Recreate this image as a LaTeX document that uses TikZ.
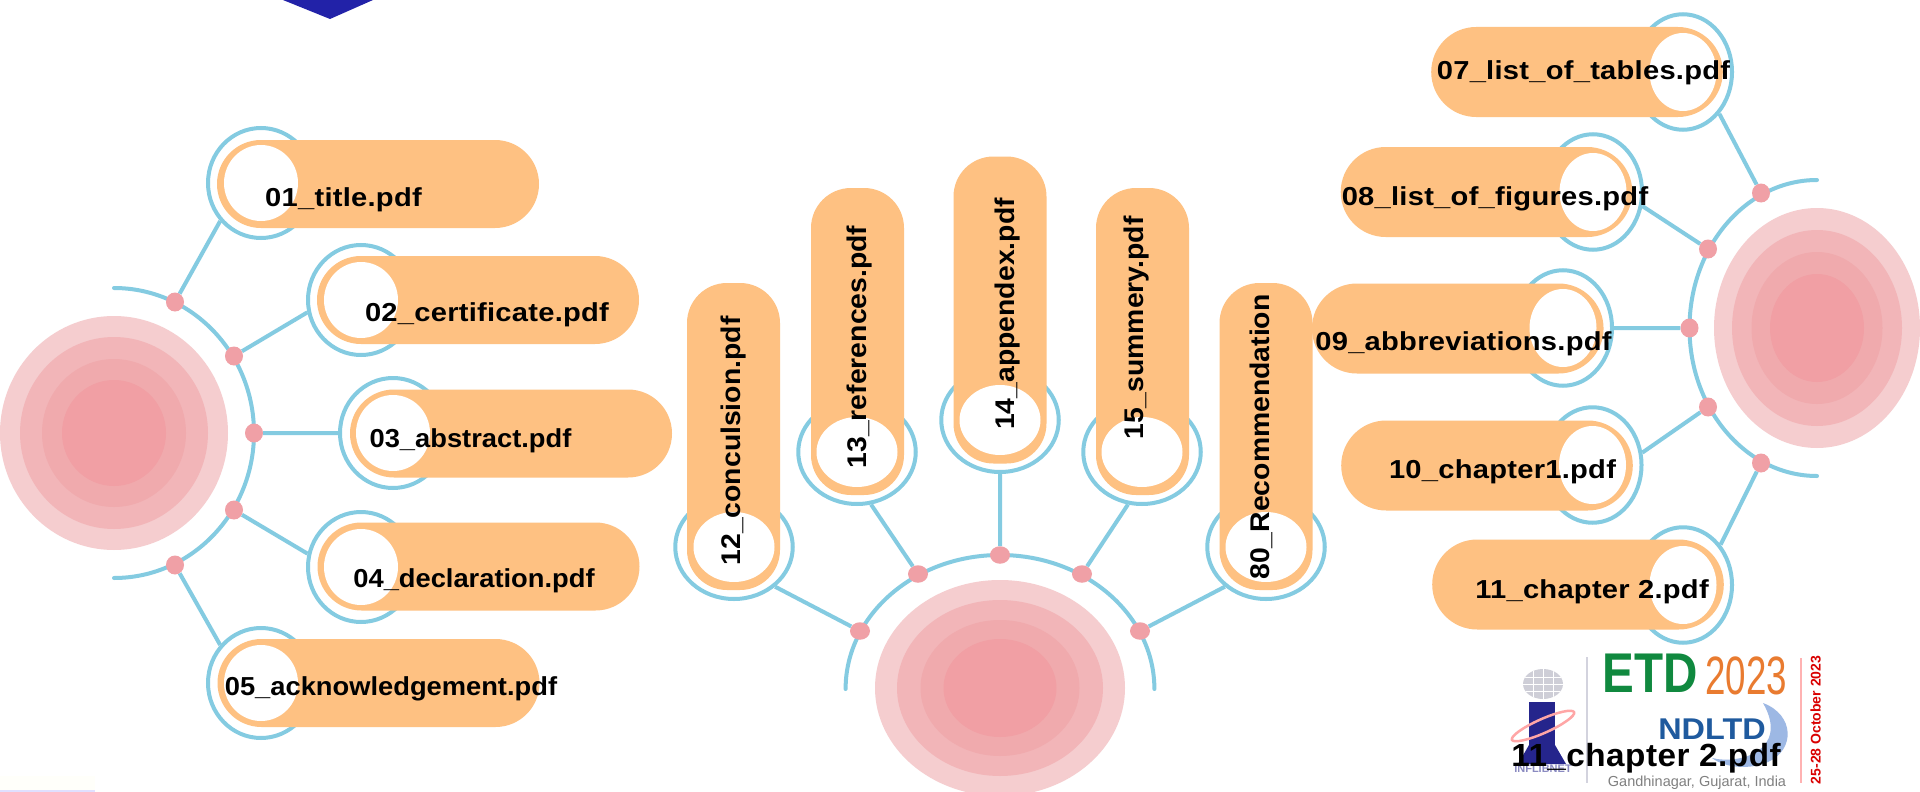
\documentclass[tikz,border=0pt]{standalone}
\usepackage{fontspec}
\setmainfont{Liberation Sans}
\newfontfamily\lblfont[FakeStretch=1.12,LetterSpace=1]{Liberation Sans Bold}
\newfontfamily\lblnfont[FakeStretch=1.05]{Liberation Sans Bold}
\newfontfamily\capfont[FakeStretch=1.04,LetterSpace=1.5]{Liberation Sans Bold}
\newfontfamily\etdfont[FakeStretch=.85]{Liberation Sans Bold}
\newfontfamily\yearfont[FakeStretch=.68]{Liberation Sans}
\newfontfamily\ndfont[FakeStretch=1.08]{Liberation Sans Bold}
\usetikzlibrary{positioning, shapes.geometric}

\definecolor{ringblue}{HTML}{84CBE1}
\definecolor{pillorange}{HTML}{FEC182}
\definecolor{dotpink}{HTML}{F0A0A6}
\definecolor{tgtA}{HTML}{F5CDCF}
\definecolor{tgtB}{HTML}{F2B5B8}
\definecolor{tgtC}{HTML}{F0AAAD}
\definecolor{tgtD}{HTML}{F19FA4}
\definecolor{tipblue}{HTML}{2222A8}
\definecolor{moonblue}{HTML}{9DB8E4}
\definecolor{etdgreen}{HTML}{10893F}
\definecolor{yearorange}{HTML}{E97B30}
\definecolor{ndblue}{HTML}{1F5A9E}
\definecolor{inavy}{HTML}{25258C}

\begin{document}
\begin{tikzpicture}[
      x=1pt,y=-1pt,on grid,
      blob/.style={ellipse,inner sep=0pt,outer sep=0pt},
      ring/.style={ellipse,draw=ringblue,line width=4pt,fill=white,inner sep=0pt},
      ringL/.style={ring,minimum width=106pt,minimum height=110pt},
      ringM/.style={ring,minimum width=117.5pt,minimum height=104pt},
      ringR/.style={ring,minimum width=98pt,minimum height=115.5pt},
      dotnode/.style={ellipse,fill=dotpink,inner sep=0pt,minimum width=18pt,minimum height=19pt},
      dotM/.style={dotnode,minimum width=20pt,minimum height=17.5pt},
      wire/.style={draw=ringblue,line width=4pt},
      bow/.style={draw=ringblue,line width=4pt,line cap=round},
      pill/.style={rectangle,fill=pillorange,inner sep=0pt,outer sep=0pt},
      pillL/.style={pill,rounded corners=44pt,minimum width=322pt,minimum height=88pt},
      pillR/.style={pill,rounded corners=45pt,minimum width=328pt,minimum height=90pt,xscale=.889,transform shape},
      pillM/.style={pill,rounded corners=40pt,minimum width=80pt,minimum height=307pt,xscale=1.1625,transform shape},
      hole/.style={blob,fill=white},
      holeL/.style={hole,minimum width=74pt,minimum height=76pt},
      holeM/.style={hole,minimum width=81pt,minimum height=70pt},
      holeR/.style={hole,minimum width=67pt,minimum height=78pt},
      lbl/.style={font=\lblfont\fontsize{26pt}{26pt}\selectfont,anchor=mid,inner sep=0pt},
      lblN/.style={lbl,font=\lblnfont\fontsize{26pt}{26pt}\selectfont},
      lblM/.style={lbl,font=\lblnfont\fontsize{27pt}{27pt}\selectfont,rotate=90}
      ]
      \useasboundingbox (0,0) rectangle (1920,792);
      % page bits
      \fill[fill=white] (0,0) rectangle (1920,792);
      \fill[fill=black!1!yellow!2!white] (0,776) rectangle (95,792);
      \fill[fill=blue!12!white] (0,790) rectangle (95,792);
      \fill[fill=tipblue] (283,0) -- (373,0) -- (330,19) -- cycle;

      % left target
      \node[blob,fill=tgtA,minimum width=228pt,minimum height=234pt] (tl1) at (114,433) {};
      \node[blob,fill=tgtB,minimum width=188pt,minimum height=192pt] (tl2) at (114,433) {};
      \node[blob,fill=tgtC,minimum width=144pt,minimum height=148pt] (tl3) at (114,433) {};
      \node[blob,fill=tgtD,minimum width=104pt,minimum height=106pt] (tl4) at (114,433) {};
      \draw[bow] (114,288) arc[start angle=90,end angle=-90,x radius=140pt,y radius=145pt];

      \node[dotnode] (d1) at (175,302) {};
      \node[dotnode] (d2) at (234,356) {};
      \node[dotnode] (d3) at (254,433) {};
      \node[dotnode] (d4) at (234,510) {};
      \node[dotnode] (d5) at (175,565) {};
      \node[ringL] (r1) [above right=119pt and 86pt of d1] {};
      \node[ringL] (r2) [above right=56pt and 127pt of d2] {};
      \node[ringL] (r3) [right=139pt of d3] {};
      \node[ringL] (r4) [below right=57pt and 127pt of d4] {};
      \node[ringL] (r5) [below right=118pt and 86pt of d5] {};
      \path[wire] (d1) -- (r1.223) (d2) -- (r2.193) (d3) -- (r3) (d4) -- (r4.166) (d5) -- (r5.137);
      \node[pillL] (p1) at (378,184) {};
      \node[pillL] (p2) at (478,300) {};
      \node[pillL] (p3) at (511,433.5) {};
      \node[pillL] (p4) at (478.5,566.5) {};
      \node[pillL] (p5) at (378.5,683) {};
      \node[holeL] (h1) at (r1) {};
      \node[holeL] (h2) at (r2) {};
      \node[holeL] (h3) at (r3) {};
      \node[holeL] (h4) at (r4) {};
      \node[holeL] (h5) at (r5) {};
      \node[lbl] (t1) at (343.5,204) {01\_title.pdf};
      \node[lbl] (t2) at (487,319) {02\_certificate.pdf};
      \node[lblN] (t3) at (470.5,445) {03\_abstract.pdf};
      \node[lblN] (t4) at (474,585) {04\_declaration.pdf};
      \node[lblN] (t5) at (391,693) {05\_acknowledgement.pdf};

      % middle target
      \node[blob,fill=tgtA,minimum width=250pt,minimum height=216pt] (tm1) at (1000,688) {};
      \node[blob,fill=tgtB,minimum width=206pt,minimum height=176pt] (tm2) at (1000,688) {};
      \node[blob,fill=tgtC,minimum width=159pt,minimum height=136pt] (tm3) at (1000,688) {};
      \node[blob,fill=tgtD,minimum width=113pt,minimum height=98pt] (tm4) at (1000,688) {};
      \draw[bow] (845.6,689) arc[start angle=180,end angle=0,x radius=154.4pt,y radius=134pt];

      \node[dotM] (d12) at (860,631) {};
      \node[dotM] (d13) at (918,574) {};
      \node[dotM] (d14) at (1000,555) {};
      \node[dotM] (d15) at (1082,574) {};
      \node[dotM] (d80) at (1140,631) {};
      \node[ringM] (r12) [above left=84pt and 126pt of d12] {};
      \node[ringM] (r13) [above left=122pt and 61pt of d13] {};
      \node[ringM] (r14) [above=135pt of d14] {};
      \node[ringM] (r15) [above right=122pt and 60pt of d15] {};
      \node[ringM] (r80) [above right=84pt and 126pt of d80] {};
      \path[wire] (d12) -- (r12.316) (d13) -- (r13.285) (d14) -- (r14) (d15) -- (r15.255) (d80) -- (r80.224);
      \node[pillM] (p12) at (733.5,436.5) {};
      \node[pillM] (p13) at (857.5,341.5) {};
      \node[pillM] (p14) at (1000,310) {};
      \node[pillM] (p15) at (1142.5,341.5) {};
      \node[pillM] (p80) at (1266,436.5) {};
      \node[holeM] (h12) at (r12) {};
      \node[holeM] (h13) at (r13) {};
      \node[holeM] (h14) at (r14) {};
      \node[holeM] (h15) at (r15) {};
      \node[holeM] (h80) at (r80) {};
      \node[lblM] (t12) at (738,441) {12\_conculsion.pdf};
      \node[lblM] (t13) at (863.5,347) {13\_references.pdf};
      \node[lblM] (t14) at (1011.5,314) {14\_appendex.pdf};
      \node[lblM] (t15) at (1140.5,328) {15\_summery.pdf};
      \node[lblM] (t80) at (1267,437) {80\_Recommendation};

      % right target
      \node[blob,fill=tgtA,minimum width=206pt,minimum height=240pt] (tr1) at (1817,328) {};
      \node[blob,fill=tgtB,minimum width=170pt,minimum height=196pt] (tr2) at (1817,328) {};
      \node[blob,fill=tgtC,minimum width=131pt,minimum height=152pt] (tr3) at (1817,328) {};
      \node[blob,fill=tgtD,minimum width=94pt,minimum height=108pt] (tr4) at (1817,328) {};
      \draw[bow] (1817,180) arc[start angle=90,end angle=270,x radius=127.5pt,y radius=148pt];

      \node[dotnode] (d7) at (1761,193) {};
      \node[dotnode] (d8) at (1708,249) {};
      \node[dotnode] (d9) at (1689.5,328) {};
      \node[dotnode] (d10) at (1708,407) {};
      \node[dotnode] (d11) at (1761,463) {};
      \node[ringR] (r7) [above left=121pt and 78pt of d7] {};
      \node[ringR] (r8) [above left=57pt and 115pt of d8] {};
      \node[ringR] (r9) [left=126.5pt of d9] {};
      \node[ringR] (r10) [below left=58pt and 115.5pt of d10] {};
      \node[ringR] (r11) [below left=122pt and 78pt of d11] {};
      \path[wire] (d7) -- (r7.311) (d8) -- (r8.344) (d9) -- (r9) (d10) -- (r10.14) (d11) -- (r11.47);
      \node[pillR] (p7) at (1577,72) {};
      \node[pillR] (p8) at (1486.5,192) {};
      \node[pillR] (p9) at (1457.75,328.5) {};
      \node[pillR] (p10) at (1487,465.5) {};
      \node[pillR] (p11) at (1578,584.5) {};
      \node[holeR] (h7) at (r7) {};
      \node[holeR] (h8) at (r8) {};
      \node[holeR] (h9) at (r9) {};
      \node[holeR] (h10) at (r10) {};
      \node[holeR] (h11) at (r11) {};
      \node[lbl] (t7) at (1583.5,77) {07\_list\_of\_tables.pdf};
      \node[lbl] (t8) at (1495,203) {08\_list\_of\_figures.pdf};
      \node[lbl] (t9) at (1463.5,348) {09\_abbreviations.pdf};
      \node[lbl] (t10) at (1502.5,476) {10\_chapter1.pdf};
      \node[lbl] (t11) at (1592,596) {11\_chapter 2.pdf};

      % logo
      \draw[draw=blue!15!gray!30!white,line width=1.5pt] (1587,657) -- (1587,783);
      \draw[draw=red!30!white,line width=1.5pt] (1801,658) -- (1801,783);
      \node[blob,fill=blue!10!gray!35!white,minimum width=40pt,minimum height=30pt,path picture={
          \draw[white,line width=1pt] (-20,-7) -- (20,-7) (-20,0) -- (20,0) (-20,7) -- (20,7)
          (-10,-15) -- (-10,15) (0,-15) -- (0,15) (10,-15) -- (10,15);}] (globe) at (1543,684) {};
      \fill[fill=inavy] (1529,702) rectangle (1555,757);
      \fill[fill=inavy] (1529,745) -- (1555,745) -- (1566,764) -- (1518,764) -- cycle;
      \node[ellipse,draw=red!35!white,line width=2.5pt,minimum width=68pt,minimum height=14pt,inner sep=0pt,rotate=24] (orbit) at (1543,726) {};
      \node[font=\bfseries\fontsize{11pt}{11pt}\selectfont,text=blue!30!gray!70!white,inner sep=0pt] (inf) at (1543,769) {INFLIBNET};
      \fill[fill=moonblue] (1763,703) .. controls (1795,715) and (1795,750) .. (1768,762) .. controls (1750,770) and (1725,768) .. (1712,758) .. controls (1740,765) and (1790,750) .. (1763,703) -- cycle;
      \node[font=\etdfont\fontsize{56pt}{56pt}\selectfont,text=etdgreen,inner sep=0pt,anchor=mid] (etd) at (1650,690) {ETD};
      \node[font=\yearfont\fontsize{54pt}{54pt}\selectfont,text=yearorange,inner sep=0pt,anchor=mid] (yr) at (1746,692) {2023};
      \node[font=\ndfont\fontsize{30pt}{30pt}\selectfont,text=ndblue,inner sep=0pt,anchor=mid] (nd) at (1712,737) {NDLTD};
      \node[font=\fontsize{14.5pt}{14.5pt}\selectfont,text=gray,inner sep=0pt,anchor=mid] (gj) at (1697,784) {Gandhinagar, Gujarat, India};
      \node[font=\bfseries\fontsize{14pt}{14pt}\selectfont,text=red!85!black,inner sep=0pt,rotate=90,anchor=mid] (dt) at (1818,720) {25-28 October 2023};
      \node[font=\capfont\fontsize{32pt}{32pt}\selectfont,inner sep=0pt,anchor=mid] (tz) at (1646,764) {11\_chapter 2.pdf};
    \end{tikzpicture}
\end{document}
